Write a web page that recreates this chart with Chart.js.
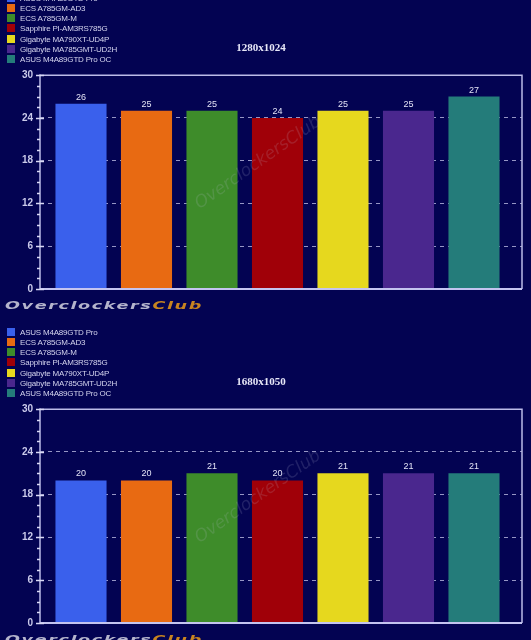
<!DOCTYPE html>
<html>
<head>
<meta charset="utf-8">
<script src="https://cdn.jsdelivr.net/npm/chart.js@4"></script>
<style>
  body { margin: 0; background: #030352; width: 531px; height: 640px; overflow: hidden; position: relative; font-family: "Liberation Sans", Arial, sans-serif; }
  .block { position: absolute; left: 0; width: 531px; height: 334px; }
  .block canvas { position: absolute; left: 0; top: 0; }
  .legend { position: absolute; left: 7px; top: 4.5px; font-size: 8px; letter-spacing: -0.2px; color: #d4d4ee; }
  .legend div { height: 10.3px; line-height: 10.3px; white-space: nowrap; }
  .legend span { display: inline-block; width: 8px; height: 8px; margin-right: 5px; vertical-align: -1px; }
  .brand { position: absolute; left: 5px; top: 310px; font: italic bold 11px "DejaVu Sans", sans-serif; color: #b4b4cc; transform: scaleX(1.6); transform-origin: left top; letter-spacing: 1px; white-space: nowrap; }
  .brand b { color: #c88420; font-weight: bold; }
</style>
</head>
<body>
<div class="block" id="b1" style="top:-11px"><canvas id="c1" width="531" height="334"></canvas><div class="legend" id="l1"></div><div class="brand">Overclockers<b>Club</b></div></div>
<div class="block" id="b2" style="top:323px"><canvas id="c2" width="531" height="334"></canvas><div class="legend" id="l2"></div><div class="brand">Overclockers<b>Club</b></div></div>
<script>
// FPS par carte mère, deux résolutions
const boards = ["ASUS M4A89GTD Pro", "ECS A785GM-AD3", "ECS A785GM-M", "Sapphire PI-AM3RS785G", "Gigabyte MA790XT-UD4P", "Gigabyte MA785GMT-UD2H", "ASUS M4A89GTD Pro OC"];
const fps1280 = [26, 25, 25, 24, 25, 25, 27];
const fps1680 = [20, 20, 21, 20, 21, 21, 21];
const barColors = ["#3a60ec", "#e86a12", "#3e8c2a", "#a00008", "#e6d81e", "#4a278e", "#247c7a"];
const yMax = 30, yStep = 6;

const $ = (id) => document.getElementById(id);
const frameColor = "#bcbce8";
const gridColor = "rgba(200,200,235,0.75)";

function fillLegend(id) {
  $(id).innerHTML = boards.map((b, i) => `<div><span style="background:${barColors[i]}"></span>${b}</div>`).join("");
}

const decor = {
  id: "decor",
  afterDatasetsDraw(chart) {
    const { ctx, chartArea: a, scales: { y } } = chart;
    ctx.save();
    // filigrane diagonal
    ctx.translate(258, 174);
    ctx.rotate(-35 * Math.PI / 180);
    ctx.font = "italic 17px 'DejaVu Sans'";
    ctx.fillStyle = "rgba(190,190,215,0.16)";
    ctx.textAlign = "center";
    ctx.textBaseline = "middle";
    ctx.fillText("OverclockersClub", 0, 0);
    ctx.restore();

    ctx.save();
    ctx.strokeStyle = frameColor;
    ctx.lineWidth = 1.5;
    ctx.beginPath();
    ctx.moveTo(a.left, a.top); ctx.lineTo(a.right, a.top); ctx.lineTo(a.right, a.bottom);
    ctx.moveTo(a.left, a.top - 1); ctx.lineTo(a.left, a.bottom);
    ctx.stroke();
    ctx.lineWidth = 2;
    ctx.strokeStyle = "#c4c4f0";
    ctx.beginPath();
    ctx.moveTo(a.left, a.bottom); ctx.lineTo(a.right, a.bottom);
    ctx.stroke();
    // graduations
    ctx.lineWidth = 1.5;
    ctx.strokeStyle = "#d8d8f4";
    for (let v = 0; v <= yMax; v += yStep / 4) {
      const py = Math.round(y.getPixelForValue(v)) + 0.5;
      const major = v % yStep === 0;
      ctx.beginPath();
      ctx.moveTo(a.left - (major ? 4 : 3), py);
      ctx.lineTo(a.left + (major ? 4 : 0), py);
      ctx.stroke();
    }
    // valeurs
    const meta = chart.getDatasetMeta(0);
    ctx.fillStyle = "#e4e4f6";
    ctx.font = "9px 'Liberation Sans'";
    ctx.textAlign = "center";
    ctx.textBaseline = "bottom";
    meta.data.forEach((bar, i) => ctx.fillText(chart.data.datasets[0].data[i].y, bar.x, bar.y - 2));
    ctx.restore();
  }
};

function makeChart(canvasId, title, values) {
  return new Chart($(canvasId), {
    type: "bar",
    data: {
      datasets: [{
        data: values.map((v, i) => ({ x: i, y: v })),
        backgroundColor: barColors,
        borderWidth: 0,
        categoryPercentage: 1,
        barPercentage: 0.78
      }]
    },
    options: {
      responsive: false,
      animation: false,
      layout: { padding: { top: 0, right: 9, bottom: 34, left: 0 } },
      plugins: {
        legend: { display: false },
        tooltip: { enabled: false },
        title: {
          display: true, text: title, color: "#e8e8f8",
          font: { family: "Liberation Serif", size: 11, weight: "bold" },
          padding: { top: 53, bottom: 20 }
        }
      },
      scales: {
        x: { type: "linear", min: -0.626, max: 6.733, offset: false, display: false },
        y: {
          min: 0, max: yMax,
          ticks: { stepSize: yStep, color: "#cacaea", padding: 7, font: { family: "Liberation Sans", size: 10, weight: "bold" } },
          grid: { color: (c) => (c.tick && c.tick.value > 0 && c.tick.value < yMax) ? gridColor : "transparent", drawTicks: false, lineWidth: 1 },
          border: { display: false, dash: [4, 4] },
          afterFit(s) { s.width = 40; }
        }
      }
    },
    plugins: [decor]
  });
}

fillLegend("l1");
fillLegend("l2");
makeChart("c1", "1280x1024", fps1280);
makeChart("c2", "1680x1050", fps1680);
</script>
</body>
</html>
